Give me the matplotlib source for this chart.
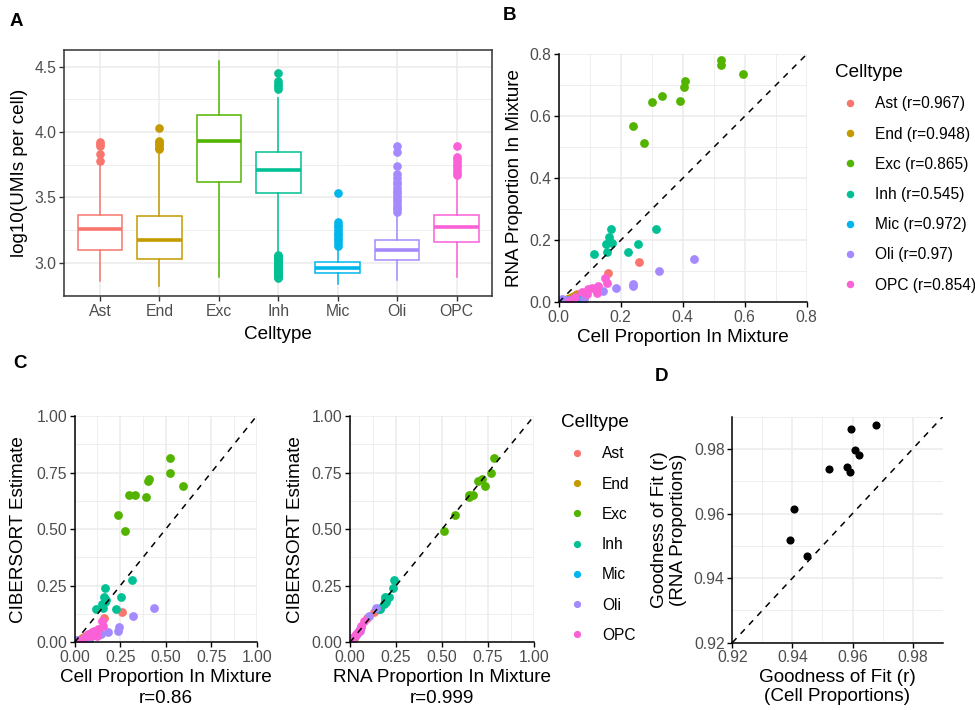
import matplotlib
matplotlib.use("Agg")
import matplotlib.pyplot as plt
from matplotlib.lines import Line2D

plt.rcParams['font.family'] = ['Liberation Sans', 'DejaVu Sans']

# ---------------- data ----------------
celltypes = ["Ast", "End", "Exc", "Inh", "Mic", "Oli", "OPC"]
colors = ["#F8766D", "#C49A00", "#53B400", "#00C094", "#00B6EB", "#A58AFF", "#FB61D7"]

# Panel A: boxplot statistics of log10(UMIs per cell)
box_q1 = [3.10, 3.03, 3.62, 3.53, 2.92, 3.02, 3.16]
box_med = [3.26, 3.17, 3.93, 3.71, 2.96, 3.10, 3.27]
box_q3 = [3.365, 3.355, 4.13, 3.85, 3.005, 3.17, 3.365]
box_whislo = [2.86, 2.82, 2.89, 3.07, 2.84, 2.865, 2.89]
box_whishi = [3.74, 3.83, 4.54, 4.26, 3.12, 3.38, 3.66]
fliers_ast = [3.78, 3.83, 3.89, 3.91, 3.92]
fliers_end = [3.87, 3.88, 3.90, 3.91, 3.92, 3.93, 4.03]
fliers_exc = []
fliers_inh = [4.33, 4.35, 4.37, 4.39, 4.45, 2.88, 2.89, 2.90, 2.91, 2.92, 2.93, 2.94,
              2.95, 2.96, 2.97, 2.98, 2.99, 3.00, 3.01, 3.02, 3.03, 3.04, 3.05, 3.06]
fliers_mic = [3.13, 3.15, 3.17, 3.19, 3.21, 3.23, 3.25, 3.27, 3.29, 3.31, 3.53]
fliers_oli = [3.39, 3.41, 3.43, 3.45, 3.47, 3.49, 3.51, 3.53, 3.55, 3.57, 3.60, 3.62,
              3.65, 3.68, 3.74, 3.85, 3.89]
fliers_opc = [3.67, 3.69, 3.71, 3.73, 3.75, 3.77, 3.79, 3.81, 3.89]

# Panels B/C: per mixture proportions (cell, RNA, CIBERSORT estimate)
cell_prop = {
    "Ast": [0.259, 0.160, 0.055, 0.045, 0.035, 0.060, 0.028, 0.040, 0.050, 0.020],
    "End": [0.045, 0.035, 0.055, 0.030, 0.040, 0.050, 0.025, 0.038, 0.042, 0.020],
    "Exc": [0.523, 0.523, 0.596, 0.408, 0.404, 0.333, 0.300, 0.391, 0.239, 0.274],
    "Inh": [0.313, 0.168, 0.255, 0.162, 0.171, 0.152, 0.155, 0.115, 0.225, 0.165],
    "Mic": [0.060, 0.065, 0.045, 0.030, 0.055, 0.040, 0.070, 0.025, 0.050, 0.035],
    "Oli": [0.437, 0.322, 0.241, 0.239, 0.185, 0.144, 0.080, 0.050, 0.020, 0.010],
    "OPC": [0.149, 0.157, 0.128, 0.106, 0.094, 0.074, 0.123, 0.090, 0.053, 0.035],
}
rna_prop = {
    "Ast": [0.130, 0.094, 0.024, 0.018, 0.012, 0.026, 0.010, 0.015, 0.020, 0.008],
    "End": [0.018, 0.012, 0.022, 0.010, 0.015, 0.020, 0.008, 0.014, 0.016, 0.006],
    "Exc": [0.782, 0.766, 0.735, 0.715, 0.696, 0.666, 0.647, 0.648, 0.569, 0.513],
    "Inh": [0.237, 0.235, 0.189, 0.210, 0.192, 0.187, 0.163, 0.155, 0.162, 0.195],
    "Mic": [0.012, 0.014, 0.009, 0.006, 0.011, 0.008, 0.015, 0.005, 0.010, 0.007],
    "Oli": [0.140, 0.102, 0.059, 0.053, 0.046, 0.038, 0.010, 0.012, 0.008, 0.010],
    "OPC": [0.077, 0.061, 0.053, 0.047, 0.042, 0.034, 0.029, 0.027, 0.018, 0.006],
}
cib_est = {
    "Ast": [0.134, 0.108, 0.025, 0.020, 0.014, 0.028, 0.012, 0.017, 0.022, 0.010],
    "End": [0.016, 0.012, 0.020, 0.009, 0.014, 0.018, 0.008, 0.013, 0.015, 0.006],
    "Exc": [0.813, 0.746, 0.690, 0.723, 0.712, 0.652, 0.652, 0.643, 0.563, 0.494],
    "Inh": [0.274, 0.239, 0.199, 0.201, 0.187, 0.169, 0.152, 0.145, 0.146, 0.178],
    "Mic": [0.010, 0.012, 0.008, 0.005, 0.010, 0.007, 0.013, 0.004, 0.009, 0.006],
    "Oli": [0.150, 0.118, 0.066, 0.052, 0.044, 0.036, 0.012, 0.010, 0.007, 0.008],
    "OPC": [0.093, 0.074, 0.058, 0.052, 0.047, 0.038, 0.030, 0.028, 0.020, 0.008],
}
celltype_r = ["0.967", "0.948", "0.865", "0.545", "0.972", "0.97", "0.854"]
r_cell = "0.86"
r_rna = "0.999"

# Panel D: goodness of fit per mixture
gof_cell = [0.9677, 0.9596, 0.9609, 0.9623, 0.9521, 0.9580, 0.9591, 0.9404, 0.9393, 0.9450]
gof_rna = [0.9875, 0.9862, 0.9797, 0.9781, 0.9737, 0.9743, 0.9730, 0.9613, 0.9519, 0.9469]

# ---------------- figure ----------------
W, H = 975, 710
fig = plt.figure(figsize=(W / 100, H / 100), dpi=100)


def px_axes(l, t, r, b):
    return fig.add_axes([l / W, 1 - b / H, (r - l) / W, (b - t) / H])


TICK_FS = 11.3
TITLE_FS = 13.6
GRID = "#EBEBEB"
TICK_COL = "#4D4D4D"
PT_SIZE = 40


def style_classic(ax, major, minor, lim, fmt):
    ax.set_xlim(lim)
    ax.set_ylim(lim)
    ax.set_xticks(major)
    ax.set_yticks(major)
    ax.set_xticks(minor, minor=True)
    ax.set_yticks(minor, minor=True)
    ax.set_xticklabels([fmt.format(v) for v in major])
    ax.set_yticklabels([fmt.format(v) for v in major])
    ax.grid(which="major", color=GRID, lw=1.1)
    ax.grid(which="minor", color=GRID, lw=0.6)
    ax.set_axisbelow(True)
    for s in ["top", "right"]:
        ax.spines[s].set_visible(False)
    for s in ["left", "bottom"]:
        ax.spines[s].set_color("black")
        ax.spines[s].set_linewidth(1.1)
    ax.tick_params(which="major", length=3.5, width=1.0, color="black",
                   labelcolor=TICK_COL, labelsize=TICK_FS, pad=2)
    ax.tick_params(which="minor", length=0)


def make_legend(handles, labels, x, y):
    leg = fig.legend(handles, labels, title="Celltype", loc="upper left",
                     bbox_to_anchor=(x / W, 1 - y / H), frameon=False, fontsize=11.2,
                     title_fontsize=TITLE_FS, borderpad=0, labelspacing=0.98,
                     handlelength=1.94, handletextpad=0.65, borderaxespad=0)
    leg._legend_box.align = "left"
    leg._legend_box.sep = 11
    return leg


# ----- Panel A -----
axA = px_axes(64.3, 50, 492.3, 296)
flier_lists = [fliers_ast, fliers_end, fliers_exc, fliers_inh, fliers_mic, fliers_oli, fliers_opc]
for i, ct in enumerate(celltypes):
    stats = [dict(med=box_med[i], q1=box_q1[i], q3=box_q3[i],
                  whislo=box_whislo[i], whishi=box_whishi[i], fliers=flier_lists[i])]
    c = colors[i]
    axA.bxp(stats, positions=[i + 1], widths=0.75, showcaps=False, patch_artist=True,
            boxprops=dict(facecolor="white", edgecolor=c, linewidth=1.1),
            whiskerprops=dict(color=c, linewidth=1.1),
            medianprops=dict(color=c, linewidth=2.6),
            flierprops=dict(marker="o", markerfacecolor=c, markeredgecolor=c, markersize=5.2),
            manage_ticks=False, zorder=3)
axA.set_xlim(0.4, 7.6)
axA.set_ylim(2.745, 4.628)
axA.set_xticks(range(1, 8))
axA.set_xticklabels(celltypes)
axA.set_yticks([3.0, 3.5, 4.0, 4.5])
axA.set_yticklabels(["3.0", "3.5", "4.0", "4.5"])
axA.set_yticks([2.75, 3.25, 3.75, 4.25], minor=True)
axA.grid(which="major", color=GRID, lw=1.1)
axA.grid(which="minor", axis="y", color=GRID, lw=0.6)
axA.set_axisbelow(True)
for s in axA.spines.values():
    s.set_color("#333333")
    s.set_linewidth(1.1)
axA.tick_params(which="major", length=3.5, width=1.0, color="#333333",
                labelcolor=TICK_COL, labelsize=TICK_FS, pad=2)
axA.tick_params(which="minor", length=0)
axA.set_xlabel("Celltype", fontsize=TITLE_FS)
axA.set_ylabel("log10(UMIs per cell)", fontsize=TITLE_FS)
axA.xaxis.set_label_coords(0.5, -0.122)
axA.yaxis.set_label_coords(-0.085, 0.5)

# ----- Panel B -----
axB = px_axes(558.7, 54.3, 806.7, 302.3)
for i, ct in enumerate(celltypes):
    axB.scatter(cell_prop[ct], rna_prop[ct], s=PT_SIZE, color=colors[i], linewidths=0, zorder=2)
axB.plot([0, 0.8], [0, 0.8], ls=(0, (4, 4)), color="black", lw=1.1, zorder=3)
style_classic(axB, [0, 0.2, 0.4, 0.6, 0.8], [0.1, 0.3, 0.5, 0.7], (0, 0.8), "{:.1f}")
axB.set_xlabel("Cell Proportion In Mixture", fontsize=TITLE_FS)
axB.set_ylabel("RNA Proportion In Mixture", fontsize=TITLE_FS)
axB.xaxis.set_label_coords(0.5, -0.108)
axB.yaxis.set_label_coords(-0.145, 0.5)

handlesB = [Line2D([], [], ls="none", marker="o", markersize=5.4, color=c, markeredgewidth=0)
            for c in colors]
labelsB = [f"{ct} (r={r})" for ct, r in zip(celltypes, celltype_r)]
make_legend(handlesB, labelsB, 835, 64)

# ----- Panel C -----
fmtC = "{:.2f}"
majC = [0, 0.25, 0.5, 0.75, 1.0]
minC = [0.125, 0.375, 0.625, 0.875]
axC1 = px_axes(74.7, 416, 256.7, 642.3)
for i, ct in enumerate(celltypes):
    axC1.scatter(cell_prop[ct], cib_est[ct], s=PT_SIZE, color=colors[i], linewidths=0, zorder=2)
axC1.plot([0, 1], [0, 1], ls=(0, (4, 4)), color="black", lw=1.1, zorder=3)
style_classic(axC1, majC, minC, (0, 1), fmtC)
axC1.set_xlabel(f"Cell Proportion In Mixture\nr={r_cell}", fontsize=TITLE_FS, linespacing=1.25)
axC1.set_ylabel("CIBERSORT Estimate", fontsize=TITLE_FS)
axC1.xaxis.set_label_coords(0.5, -0.12)
axC1.yaxis.set_label_coords(-0.264, 0.5)

axC2 = px_axes(350, 416, 534, 642.3)
for i, ct in enumerate(celltypes):
    axC2.scatter(rna_prop[ct], cib_est[ct], s=PT_SIZE, color=colors[i], linewidths=0, zorder=2)
axC2.plot([0, 1], [0, 1], ls=(0, (4, 4)), color="black", lw=1.1, zorder=3)
style_classic(axC2, majC, minC, (0, 1), fmtC)
axC2.set_xlabel(f"RNA Proportion In Mixture\nr={r_rna}", fontsize=TITLE_FS, linespacing=1.25)
axC2.set_ylabel("CIBERSORT Estimate", fontsize=TITLE_FS)
axC2.xaxis.set_label_coords(0.5, -0.12)
axC2.yaxis.set_label_coords(-0.25, 0.5)

handlesC = [Line2D([], [], ls="none", marker="o", markersize=5.2, color=c, markeredgewidth=0)
            for c in colors]
make_legend(handlesC, celltypes, 561.5, 414)

# ----- Panel D -----
axD = px_axes(732.3, 416.7, 942.7, 642.7)
axD.scatter(gof_cell, gof_rna, s=34, color="black", linewidths=0, zorder=2)
axD.plot([0.92, 0.99], [0.92, 0.99], ls=(0, (4, 4)), color="black", lw=1.1, zorder=3)
style_classic(axD, [0.92, 0.94, 0.96, 0.98], [0.93, 0.95, 0.97, 0.99], (0.92, 0.99), "{:.2f}")
axD.set_xlabel("Goodness of Fit (r)\n(Cell Proportions)", fontsize=TITLE_FS, linespacing=1.2)
axD.set_ylabel("Goodness of Fit (r)\n(RNA Proportions)", fontsize=TITLE_FS, linespacing=1.15)
axD.xaxis.set_label_coords(0.5, -0.115)
axD.yaxis.set_label_coords(-0.217, 0.5)

# panel letters
for letter, (x, y) in {"A": (16, 21), "B": (510, 16), "C": (20, 363), "D": (661, 377)}.items():
    fig.text(x / W, 1 - y / H, letter, ha="center", va="center", fontsize=13.5, fontweight="bold")

fig.savefig("out.png", dpi=100)
